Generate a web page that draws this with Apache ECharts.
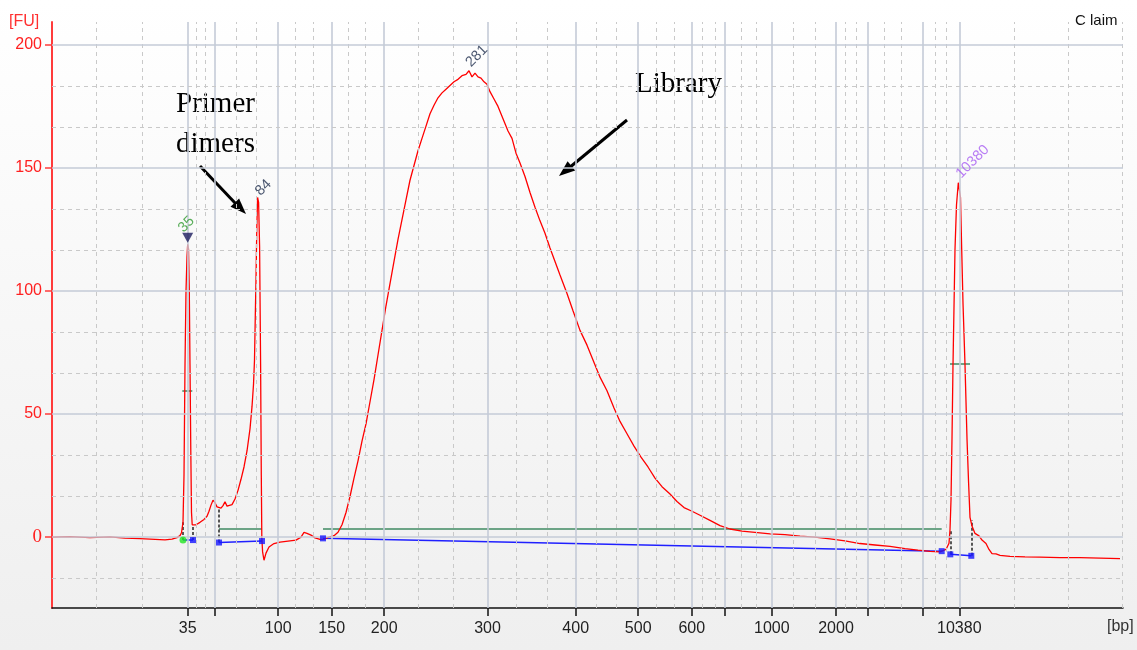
<!DOCTYPE html>
<html>
<head>
<meta charset="utf-8">
<title>Electropherogram</title>
<script src="https://cdn.jsdelivr.net/npm/echarts@6/dist/echarts.min.js"></script>
<style>
  html, body { margin: 0; padding: 0; background: #fff; }
  #chart { width: 1137px; height: 650px; }
</style>
</head>
<body>
<div id="chart"></div>
<script>
// trace: migration time (s) vs fluorescence (FU)
const traceTime = [
  20.0, 21.8, 23.8, 25.8, 27.3, 28.8, 30.3, 31.3, 32.0, 32.5, 32.8, 32.95, 33.1, 33.2, 33.3, 33.4, 33.5, 33.57,
  33.65, 33.73, 33.8, 33.88, 33.95, 34.02, 34.1, 34.4, 34.8, 35.2, 35.5, 35.7, 35.9, 36.1, 36.3, 36.5, 36.7, 36.9, 37.1,
  37.3, 37.5, 37.7, 38.0, 38.3, 38.6, 38.9, 39.2, 39.5, 39.8, 40.0, 40.15, 40.25, 40.33, 40.4, 40.48, 40.56, 40.66,
  40.76, 40.86, 40.93, 40.98, 41.06, 41.2, 41.4, 41.7, 42.2, 42.8, 43.6, 44.4, 44.9, 45.2, 45.5, 45.9, 46.3, 46.8,
  47.2, 47.7, 48.2, 48.6, 49.0, 49.4, 49.8, 50.2, 50.6, 51.0, 51.4, 51.8, 52.2, 52.6, 53.0, 53.4, 53.8, 54.2, 54.6,
  55.0, 55.4, 55.8, 56.2, 56.6, 57.0, 57.4, 57.8, 58.2, 58.6, 59.0, 59.4, 59.8, 60.2, 60.6, 61.0, 61.4, 61.7, 62.0,
  62.3, 62.6, 62.9, 63.2, 63.5, 63.8, 64.2, 64.6, 65.1, 65.6, 66.0, 66.4, 66.8, 67.3, 67.8, 68.3, 68.8, 69.3, 69.8,
  70.3, 70.8, 71.5, 72.1, 72.8, 73.5, 74.1, 74.8, 75.5, 76.2, 76.8, 77.5, 78.2, 78.9, 79.6, 80.3, 81.0, 81.8, 82.5,
  83.2, 84.0, 84.8, 85.8, 86.8, 87.8, 89.0, 90.3, 91.8, 93.3, 94.8, 96.3, 97.8, 99.3, 100.8, 102.3, 103.8, 105.3,
  106.6, 107.8, 108.8, 109.4, 109.7, 109.8, 109.9, 110.0, 110.1, 110.3, 110.45, 110.63, 110.85, 110.97, 111.1,
  111.3, 111.5, 111.65, 111.8, 112.0, 112.3, 112.7, 113.0, 113.4, 113.7, 114.0, 114.4, 114.8, 115.8, 117.3, 118.8,
  120.8, 122.8, 124.8, 126.8
];
const traceFU = [
  0, 0.2, -0.2, 0.1, -0.4, -0.6, -0.9, -1.1, -0.8, -0.2, 0.6, 1.8, 6, 25, 70, 100, 114, 119,
  117, 100, 70, 35, 10, 5, 4.2, 5, 6, 7.2, 8.5, 10.5, 13, 15, 14, 12.3, 11.5, 11.8, 12.8,
  14.4, 12.6, 12.2, 13.2, 15.5, 19, 23.5, 28.5, 35, 44, 53, 62, 72, 90, 105, 125, 138, 136,
  118, 70, 25, 0, -6, -9.4, -6.5, -4, -2.6, -2, -1.6, -1.2, 0, 1.9, 1.5, 0.8, -0.3, -0.9,
  -0.8, 0, 0.6, 2, 5, 10, 16.5, 24, 31, 39, 46, 55, 64, 74, 84, 94, 103, 112, 121,
  129, 137, 145, 151, 157, 162, 167, 172, 175.5, 178.5, 180.5, 182, 183.5, 185, 186, 187.5, 188, 189.5, 187,
  188.5, 187, 186.5, 185, 184, 181, 178, 175, 170, 165, 162, 156, 152, 146.5, 140, 134, 128.5, 123.5, 117.5,
  112, 106.5, 99, 92, 84, 78, 72, 65, 59.5, 52.5, 47, 42, 37, 32.5, 28.5, 24, 20.5, 17.5, 14.5,
  12, 10.5, 8.9, 6.8, 4.7, 3.3, 2.4, 1.9, 1.3, 1.0, 0.4, 0, -0.7, -1.5, -2.6, -3.2, -3.8, -4.7,
  -5.3, -5.8, -6, -5, -2.5, 3, 15, 40, 70, 117, 135, 144, 138, 117, 95,
  70, 40, 23, 8, 4.5, 1.5, 0.5, -1.2, -2.6, -5, -6.7, -6.8, -7.4, -7.8, -8, -8.1,
  -8.3, -8.3, -8.5, -8.7
];

// x axis: sizes (bp) sit at ladder times
const majorTickTime = [33.57, 36.25, 42.62, 47.97, 53.22, 63.55, 72.37, 78.62, 83.98, 87.3, 91.98, 98.4, 101.54, 107.07, 110.73];
const majorTickLabel = ['35', '', '100', '150', '200', '300', '400', '500', '600', '', '1000', '2000', '', '', '10380'];
const minorGridTime = [24.46, 29.03, 34.44, 35.33, 38.4, 40.46, 44.37, 46.13, 49.63, 51.36, 56.67, 60.1, 66.46, 69.55,
  74.43, 76.38, 80.39, 82.26, 85.06, 86.28, 88.93, 90.4, 94.12, 96.3, 99.33, 100.4, 103.27, 104.93, 108.28, 109.44,
  116.18, 121.64, 127.07];
const yLabelValues = [0, 50, 100, 150, 200];
const yMinorGrid = [-16.67, 16.67, 33.33, 66.67, 83.33, 116.67, 133.33, 166.67, 183.33];

// called peaks
const peakName = ['35', '84', '281', '10380'];
const peakTime = [33.57, 40.56, 61.7, 110.63];
const peakFU = [119, 138, 189.5, 144];
const peakColor = ['#2f9a2f', '#1c2b4a', '#1c2b4a', '#a85cf2'];

// integration regions (baseline from start to end)
const regionStartTime = [33.1, 36.7, 47.1, 109.83];
const regionEndTime = [34.1, 41.0, 108.97, 111.93];
const regionStartBase = [-1.2, -2.2, -0.5, -7.0];
const regionEndBase = [-1.2, -1.6, -5.7, -7.6];
const regionStartTop = [6, 11.5, -0.5, 2.4];
const regionEndTop = [4.2, -1.6, -5.5, 6.9];
const smearLevel = 3.3;
const markerHalfFU = [59.5, 70.4];
const markerHalfFrom = [33.03, 109.8];
const markerHalfTo = [34.03, 111.8];

const trace = traceTime.map((t, i) => [t, traceFU[i]]);

function tickText(v) {
  let best = 0;
  for (let i = 1; i < majorTickTime.length; i++) {
    if (Math.abs(majorTickTime[i] - v) < Math.abs(majorTickTime[best] - v)) best = i;
  }
  return majorTickLabel[best];
}

const gridLines = []
  .concat(majorTickTime.map(t => ({ xAxis: t })))
  .concat(minorGridTime.map(t => ({ xAxis: t, lineStyle: { type: [4, 4], color: '#c9c9c9', width: 1 } })))
  .concat(yLabelValues.map(v => ({ yAxis: v })))
  .concat(yMinorGrid.map(v => ({ yAxis: v, lineStyle: { type: [4, 4], color: '#c9c9c9', width: 1 } })));

const baselineSegs = regionStartTime.map((t, i) => ({ coords: [[t, regionStartBase[i]], [regionEndTime[i], regionEndBase[i]]] }));
const dropSegs = [];
regionStartTime.forEach((t, i) => {
  dropSegs.push({ coords: [[t, regionStartBase[i]], [t, regionStartTop[i]]] });
  dropSegs.push({ coords: [[regionEndTime[i], regionEndBase[i]], [regionEndTime[i], regionEndTop[i]]] });
});
const greenSegs = [
  { coords: [[regionStartTime[1], smearLevel], [regionEndTime[1], smearLevel]] },
  { coords: [[regionStartTime[2], smearLevel], [regionEndTime[2], smearLevel]] },
  { coords: [[markerHalfFrom[0], markerHalfFU[0]], [markerHalfTo[0], markerHalfFU[0]]] },
  { coords: [[markerHalfFrom[1], markerHalfFU[1]], [markerHalfTo[1], markerHalfFU[1]]] }
];
const blueDots = [];
regionStartTime.forEach((t, i) => {
  if (i > 0) blueDots.push([t, regionStartBase[i]]);
  blueDots.push([regionEndTime[i], regionEndBase[i]]);
});

// label nudges (in the rotated label frame)
const labelDistance = [14, 4, 4, 4];
const labelOffset = [[-5, -5], [0, 0], [1, -2], [2, -2]];

let myChart = echarts.init(document.getElementById('chart'));

let option = {
  animation: false,
  backgroundColor: {
    type: 'linear', x: 0, y: 0, x2: 0, y2: 1,
    colorStops: [{ offset: 0, color: '#ffffff' }, { offset: 1, color: '#efefef' }]
  },
  grid: { left: 52, right: 14, top: 22, bottom: 42 },
  xAxis: {
    type: 'value',
    min: 20,
    max: 127.1,
    splitLine: { show: false },
    axisLine: { onZero: false, lineStyle: { color: '#111', width: 1.5 } },
    axisTick: { customValues: majorTickTime, length: 8, lineStyle: { color: '#111', width: 1.5 } },
    axisLabel: {
      customValues: majorTickTime.filter((t, i) => majorTickLabel[i] !== ''),
      formatter: v => tickText(v),
      margin: 13,
      color: '#222',
      fontSize: 16,
      fontFamily: 'Liberation Sans'
    }
  },
  yAxis: {
    type: 'value',
    min: -28.8,
    max: 209.3,
    splitLine: { show: false },
    axisLine: { show: true, lineStyle: { color: '#ff3b3b', width: 2 } },
    axisTick: { show: true, customValues: yLabelValues, length: 7, lineStyle: { color: '#ff3b3b', width: 1.5 } },
    axisLabel: {
      customValues: yLabelValues,
      margin: 10,
      color: '#ff2020',
      fontSize: 16,
      fontFamily: 'Liberation Sans',
      formatter: v => (v === 0 ? '{z|0}' : String(v)),
      rich: { z: { fontFamily: 'Liberation Serif', fontSize: 19, color: '#ff2020' } }
    }
  },
  series: [
    {
      // grid lines
      type: 'line',
      data: [[20, 0]],
      showSymbol: false,
      lineStyle: { opacity: 0 },
      silent: true,
      z: 1,
      markLine: {
        silent: true,
        symbol: ['none', 'none'],
        label: { show: false },
        lineStyle: { type: 'solid', color: '#c5cbd7', width: 1.6 },
        data: gridLines
      }
    },
    {
      type: 'lines',
      coordinateSystem: 'cartesian2d',
      data: greenSegs,
      lineStyle: { color: '#3f8a62', width: 1.5, opacity: 1 },
      z: 2
    },
    {
      type: 'lines',
      coordinateSystem: 'cartesian2d',
      data: dropSegs,
      lineStyle: { color: '#222', width: 1.5, type: [3, 2], opacity: 1 },
      z: 2
    },
    {
      type: 'lines',
      coordinateSystem: 'cartesian2d',
      data: baselineSegs,
      lineStyle: { color: '#2020ff', width: 1.5, opacity: 1 },
      z: 3
    },
    {
      name: 'FU',
      type: 'line',
      data: trace,
      showSymbol: false,
      lineStyle: { color: '#ff0000', width: 1.3 },
      z: 4
    },
    {
      type: 'scatter',
      data: blueDots,
      symbol: 'rect',
      symbolSize: 6,
      itemStyle: { color: '#1515ff' },
      z: 5
    },
    {
      type: 'scatter',
      data: [[regionStartTime[0], regionStartBase[0]]],
      symbol: 'circle',
      symbolSize: 7,
      itemStyle: { color: '#22e622' },
      z: 5
    },
    {
      // lower marker flag
      type: 'scatter',
      data: [[peakTime[0], peakFU[0] + 2.6]],
      symbol: 'triangle',
      symbolRotate: 180,
      symbolSize: [11, 10],
      itemStyle: { color: '#1b1b5e' },
      z: 6
    },
    {
      type: 'scatter',
      symbolSize: 0,
      z: 6,
      data: peakName.map((n, i) => ({
        value: [peakTime[i], peakFU[i]],
        label: { color: peakColor[i], distance: labelDistance[i], offset: labelOffset[i] }
      })),
      label: {
        show: true,
        formatter: p => peakName[p.dataIndex],
        position: 'top',
        align: 'left',
        verticalAlign: 'middle',
        rotate: 45,
        fontSize: 14.5,
        fontFamily: 'Liberation Sans'
      }
    }
  ],
  graphic: [
    { type: 'text', left: 9, top: 14, style: { text: '[FU]', fill: '#ff3030', font: '16px "Liberation Sans"' } },
    { type: 'text', left: 1107, top: 619, style: { text: '[bp]', fill: '#333', font: '16px "Liberation Sans"' } },
    { type: 'text', left: 1075, top: 13, style: { text: 'C laim', fill: '#111', font: '15px "Liberation Sans"' } },
    { type: 'text', left: 176, top: 84, style: { text: 'Primer\ndimers', fill: '#000', font: '29px "Liberation Serif"', lineHeight: 40 } },
    { type: 'text', left: 635, top: 70, style: { text: 'Library', fill: '#000', font: '29px "Liberation Serif"' } },
    { type: 'line', shape: { x1: 200, y1: 166, x2: 236, y2: 204 }, style: { stroke: '#000', lineWidth: 3 } },
    { type: 'polygon', shape: { points: [[246, 214], [239.1, 198.4], [230.5, 206.8]] }, style: { fill: '#000' } },
    { type: 'line', shape: { x1: 627, y1: 120, x2: 569, y2: 168 }, style: { stroke: '#000', lineWidth: 3 } },
    { type: 'polygon', shape: { points: [[559, 176], [575.2, 170.4], [567.6, 161.2]] }, style: { fill: '#000' } }
  ]
};

option && myChart.setOption(option);
</script>
</body>
</html>
